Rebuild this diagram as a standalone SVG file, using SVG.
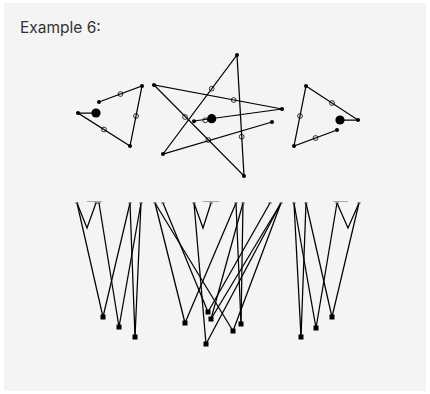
<svg xmlns="http://www.w3.org/2000/svg" width="430" height="394" viewBox="0 0 430 394">
<style>
.e{stroke:#000;stroke-width:1.25;fill:none}
.d{fill:#000}
.h{fill:none;stroke:#000;stroke-width:0.8}
.t{fill:#555}
.b{stroke:#aaa;stroke-width:1}
.sq{fill:#000}
.lbl{font-family:Inter,"Noto Sans",sans-serif;font-size:15.5px;fill:#333}
</style>
<rect x="4" y="3" width="422" height="388" fill="#f4f4f4"/>
<text class="lbl" x="20" y="33">Example 6:</text>

<g id="connectors">
<!-- left triangle -->
<polyline class="e" points="99,102 142,86 130,146 78,113 96,113"/>
<!-- star -->
<polyline class="e" points="272,122 163,154 237,55 244,176 154,85 282,109 194,121"/>
<!-- right triangle -->
<polyline class="e" points="337,130 294,146 306,86 358,120 340,120"/>

<!-- bottom left group -->
<polyline class="e" points="77,203 87,228 96,203"/>
<line class="e" x1="77" y1="203" x2="103" y2="317"/>
<line class="e" x1="99" y1="203" x2="119" y2="327"/>
<line class="e" x1="130" y1="203" x2="103" y2="317"/>
<line class="e" x1="130" y1="203" x2="135" y2="337"/>
<line class="e" x1="141" y1="203" x2="119" y2="327"/>
<line class="e" x1="141" y1="203" x2="135" y2="337"/>

<!-- bottom middle group -->
<polyline class="e" points="194,203 203,228 211,203"/>
<line class="e" x1="155" y1="203" x2="185" y2="323"/>
<line class="e" x1="155" y1="203" x2="233" y2="331"/>
<line class="e" x1="163" y1="203" x2="208" y2="312"/>
<line class="e" x1="194" y1="203" x2="206" y2="344"/>
<line class="e" x1="236" y1="203" x2="185" y2="323"/>
<line class="e" x1="236" y1="203" x2="241" y2="324"/>
<line class="e" x1="243" y1="203" x2="241" y2="324"/>
<line class="e" x1="243" y1="203" x2="211" y2="319"/>
<line class="e" x1="270" y1="203" x2="208" y2="312"/>
<line class="e" x1="281" y1="203" x2="211" y2="319"/>
<line class="e" x1="281" y1="203" x2="233" y2="331"/>
<line class="e" x1="281" y1="203" x2="206" y2="344"/>

<!-- bottom right group -->
<polyline class="e" points="337,203 348,228 359,203"/>
<line class="e" x1="294" y1="203" x2="301" y2="337"/>
<line class="e" x1="294" y1="203" x2="316" y2="328"/>
<line class="e" x1="306" y1="203" x2="301" y2="337"/>
<line class="e" x1="306" y1="203" x2="332" y2="317"/>
<line class="e" x1="337" y1="203" x2="316" y2="328"/>
<line class="e" x1="359" y1="203" x2="332" y2="317"/>

<!-- light bars -->
<line class="b" x1="87" y1="201.5" x2="102" y2="201.5"/>
<line class="b" x1="203" y1="201.5" x2="219" y2="201.5"/>
<line class="b" x1="333" y1="201.5" x2="348" y2="201.5"/>
</g>

<g id="triangle-left">
<circle class="d" cx="99" cy="102" r="2"/>
<circle class="d" cx="142" cy="86" r="2"/>
<circle class="d" cx="130" cy="146" r="2"/>
<circle class="d" cx="78" cy="113" r="2"/>
<circle class="d" cx="96" cy="113" r="4.6"/>
<circle class="h" cx="120.5" cy="94" r="2.4"/>
<circle class="h" cx="136" cy="116" r="2.4"/>
<circle class="h" cx="104" cy="129.5" r="2.4"/>
</g>

<g id="star">
<circle class="d" cx="272" cy="122" r="2"/>
<circle class="d" cx="163" cy="154" r="2"/>
<circle class="d" cx="237" cy="55" r="2"/>
<circle class="d" cx="244" cy="176" r="2"/>
<circle class="d" cx="154" cy="85" r="2"/>
<circle class="d" cx="282" cy="109" r="2"/>
<circle class="d" cx="194" cy="121.3" r="2"/>
<circle class="d" cx="211.7" cy="118.7" r="4.6"/>
<circle class="h" cx="211.7" cy="88.7" r="2.4"/>
<circle class="h" cx="185" cy="117" r="2.4"/>
<circle class="h" cx="233.7" cy="100" r="2.4"/>
<circle class="h" cx="241.7" cy="136.7" r="2.4"/>
<circle class="h" cx="208.3" cy="140" r="2.4"/>
<circle class="h" cx="205.3" cy="120.3" r="2.4"/>
</g>

<g id="triangle-right">
<circle class="d" cx="337" cy="130" r="2"/>
<circle class="d" cx="294" cy="146" r="2"/>
<circle class="d" cx="306" cy="86" r="2"/>
<circle class="d" cx="358" cy="120" r="2"/>
<circle class="d" cx="340" cy="120" r="4.6"/>
<circle class="h" cx="332" cy="103" r="2.4"/>
<circle class="h" cx="300" cy="116" r="2.4"/>
<circle class="h" cx="315.5" cy="138" r="2.4"/>
</g>

<g id="top-nodes">
<rect class="t" x="75.5" y="202.3" width="3" height="1.4"/>
<rect class="t" x="94.5" y="202.3" width="3" height="1.4"/>
<rect class="t" x="97.5" y="202.3" width="3" height="1.4"/>
<rect class="t" x="128.5" y="202.3" width="3" height="1.4"/>
<rect class="t" x="139.5" y="202.3" width="3" height="1.4"/>
<rect class="t" x="153.5" y="202.3" width="3" height="1.4"/>
<rect class="t" x="161.5" y="202.3" width="3" height="1.4"/>
<rect class="t" x="192.5" y="202.3" width="3" height="1.4"/>
<rect class="t" x="209.5" y="202.3" width="3" height="1.4"/>
<rect class="t" x="234.5" y="202.3" width="3" height="1.4"/>
<rect class="t" x="241.5" y="202.3" width="3" height="1.4"/>
<rect class="t" x="268.5" y="202.3" width="3" height="1.4"/>
<rect class="t" x="279.5" y="202.3" width="3" height="1.4"/>
<rect class="t" x="292.5" y="202.3" width="3" height="1.4"/>
<rect class="t" x="304.5" y="202.3" width="3" height="1.4"/>
<rect class="t" x="335.5" y="202.3" width="3" height="1.4"/>
<rect class="t" x="357.5" y="202.3" width="3" height="1.4"/>
</g>

<g id="bottom-nodes">
<rect class="sq" x="100.5" y="314.5" width="5" height="5"/>
<rect class="sq" x="116.5" y="324.5" width="5" height="5"/>
<rect class="sq" x="132.5" y="334.5" width="5" height="5"/>
<rect class="sq" x="182.5" y="320.5" width="5" height="5"/>
<rect class="sq" x="205.5" y="309.5" width="5" height="5"/>
<rect class="sq" x="208.5" y="316.5" width="5" height="5"/>
<rect class="sq" x="230.5" y="328.5" width="5" height="5"/>
<rect class="sq" x="238.5" y="321.5" width="5" height="5"/>
<rect class="sq" x="203.5" y="341.5" width="5" height="5"/>
<rect class="sq" x="298.5" y="334.5" width="5" height="5"/>
<rect class="sq" x="313.5" y="325.5" width="5" height="5"/>
<rect class="sq" x="329.5" y="314.5" width="5" height="5"/>
</g>
</svg>
